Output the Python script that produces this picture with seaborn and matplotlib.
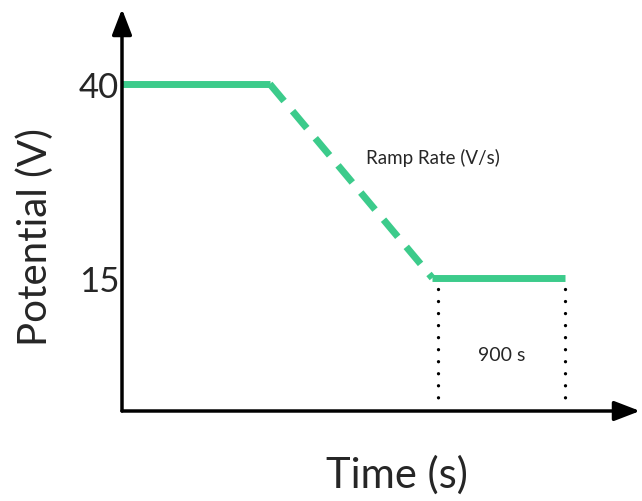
import matplotlib
matplotlib.use("Agg")
import matplotlib.pyplot as plt
import seaborn as sns
import pandas as pd

# Potential program: hold, ramp down, hold
times = [0, 1000, 2100, 3000]          # s
volts = [40, 40, 15, 15]               # V
ytick_values = [15, 40]
ytick_labels = ["15", "40"]
hold_label = "900 s"
ramp_label = "Ramp Rate (V/s)"

sns.set_theme(style="white")
plt.rcParams["font.family"] = ["Lato", "DejaVu Sans"]

green = "#3ccb8b"
fig = plt.figure(figsize=(6.42, 5.02), dpi=100)
ax = fig.add_axes([122 / 642, 1 - 412 / 502, 518 / 642, 402 / 502])

df = pd.DataFrame({"t": times, "V": volts})
seg1 = df.iloc[0:2]
seg2 = df.iloc[1:3]
seg3 = df.iloc[2:4]

sns.lineplot(data=seg1, x="t", y="V", ax=ax, color=green, lw=5, solid_capstyle="butt")
sns.lineplot(data=seg2, x="t", y="V", ax=ax, color=green, lw=5, dashes=False)
ax.lines[-1].set_dashes((3.2, 1.9))
ax.lines[-1].set_dash_capstyle("butt")
sns.lineplot(data=seg3, x="t", y="V", ax=ax, color=green, lw=5, solid_capstyle="butt")

ax.set_xlim(0, 3505)
ax.set_ylim(-2.14, 49.66)

# dotted markers of the final hold window
for tx in (times[2] + 40, times[3]):
    ax.plot([tx, tx], [13.6, -1.4], color="black", lw=2.4,
            linestyle=(0, (0.01, 3.6)), dash_capstyle="round")

ax.text((times[2] + times[3]) / 2 + 20, 5.1, hold_label, ha="center", va="center", fontsize=14)
ax.text(1650, 30.6, ramp_label, ha="left", va="center", fontsize=13.5)

for s in ax.spines.values():
    s.set_visible(False)
ax.set_xticks([])
ax.set_yticks(ytick_values)
ax.set_yticklabels(ytick_labels, fontsize=25)
ax.tick_params(axis="y", length=0, pad=2)

# axes drawn as arrows
ax.annotate("", xy=(0, 1), xytext=(0, 0), xycoords="axes fraction",
            arrowprops=dict(arrowstyle="-|>,head_length=1.3,head_width=0.5",
                            color="black", lw=2.5, shrinkA=0, shrinkB=0))
ax.annotate("", xy=(1, 0), xytext=(0, 0), xycoords="axes fraction",
            arrowprops=dict(arrowstyle="-|>,head_length=1.3,head_width=0.5",
                            color="black", lw=2.5, shrinkA=0, shrinkB=0))

ax.set_xlabel("Time (s)", fontsize=30)
ax.set_ylabel("Potential (V)", fontsize=29)
ax.xaxis.set_label_coords(0.531, -0.157)
ax.xaxis.label.set_va("center")
ax.yaxis.set_label_coords(-0.168, 0.435)
ax.yaxis.label.set_va("center")

fig.savefig("out.png", dpi=100)
